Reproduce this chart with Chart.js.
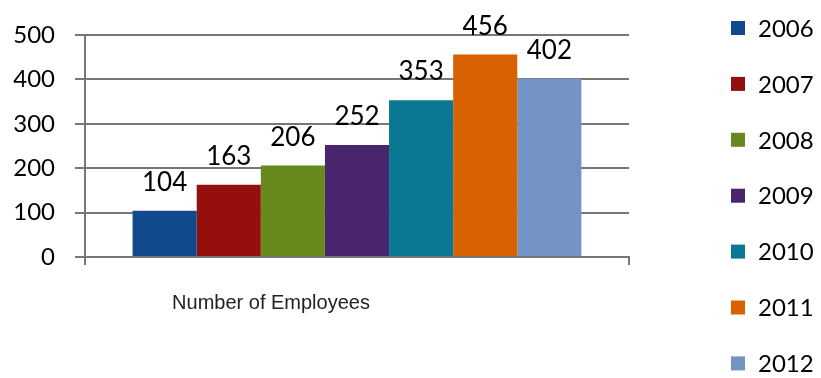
<!DOCTYPE html>
<html>
<head>
<meta charset="utf-8">
<script src="https://cdn.jsdelivr.net/npm/chart.js@4"></script>
<style>
  html, body { margin: 0; padding: 0; background: #fff; overflow: hidden; }
  #wrap { width: 821px; height: 378px; position: relative; }
</style>
</head>
<body>
<div id="wrap"><canvas id="empChart"></canvas></div>
<script>
const categories = ["Number of Employees"];
const years = ["2006", "2007", "2008", "2009", "2010", "2011", "2012"];
const employees = [104, 163, 206, 252, 353, 456, 402];
const colors = ["#104A8C", "#940F0D", "#67891E", "#48256C", "#0B7893", "#D86102", "#7393C4"];
const yTicks = [0, 100, 200, 300, 400, 500];

const gridColor = "#777";

// value labels above each bar
const valueLabels = {
  id: "valueLabels",
  afterDatasetsDraw(chart) {
    const ctx = chart.ctx;
    ctx.save();
    ctx.font = "26px Lato";
    ctx.fillStyle = "#000";
    ctx.textAlign = "center";
    ctx.textBaseline = "alphabetic";
    chart.data.datasets.forEach((ds, i) => {
      chart.getDatasetMeta(i).data.forEach((bar, j) => {
        ctx.fillText(String(ds.data[j]), bar.x, bar.y - 20);
      });
    });
    ctx.restore();
  }
};

// legend on the right, spaced like the original (runs past the bottom edge)
const sideLegend = {
  id: "sideLegend",
  afterDraw(chart) {
    const ctx = chart.ctx;
    ctx.save();
    ctx.font = "24px Lato";
    ctx.textBaseline = "middle";
    ctx.textAlign = "left";
    chart.data.datasets.forEach((ds, i) => {
      const y = 28 + i * 55.9;
      ctx.fillStyle = ds.backgroundColor;
      ctx.fillRect(731, y - 7, 14, 14);
      ctx.fillStyle = "#000";
      ctx.fillText(ds.label, 758, y + 1);
    });
    ctx.restore();
  }
};

const datasets = years.map((yr, i) => ({
  label: yr,
  data: [employees[i]],
  backgroundColor: colors[i],
  borderWidth: 0,
  categoryPercentage: 0.825,
  barPercentage: 1
}));

new Chart(document.getElementById("empChart"), {
  type: "bar",
  data: { labels: categories, datasets },
  plugins: [valueLabels, sideLegend],
  options: {
    responsive: true,
    maintainAspectRatio: false,
    animation: false,
    layout: { padding: { top: 35, right: 192, bottom: 0, left: 0 } },
    plugins: {
      legend: { display: false },
      tooltip: { enabled: false }
    },
    scales: {
      x: {
        afterFit(scale) { scale.height = 121; },
        grid: {
          drawOnChartArea: false,
          drawTicks: true,
          tickLength: 8,
          color: gridColor,
          lineWidth: 2
        },
        border: { color: gridColor, width: 2 },
        ticks: {
          font: { family: "Liberation Sans", size: 20 },
          color: "#222",
          padding: 26,
          labelOffset: -86
        }
      },
      y: {
        min: 0,
        max: 500,
        afterFit(scale) { scale.width = 85; },
        afterBuildTicks(scale) { scale.ticks = yTicks.map(v => ({ value: v })); },
        grid: {
          color: gridColor,
          lineWidth: 2,
          tickLength: 10
        },
        border: { color: gridColor, width: 2 },
        ticks: {
          font: { family: "Lato", size: 24 },
          color: "#000",
          padding: 20
        }
      }
    }
  }
});
</script>
</body>
</html>
